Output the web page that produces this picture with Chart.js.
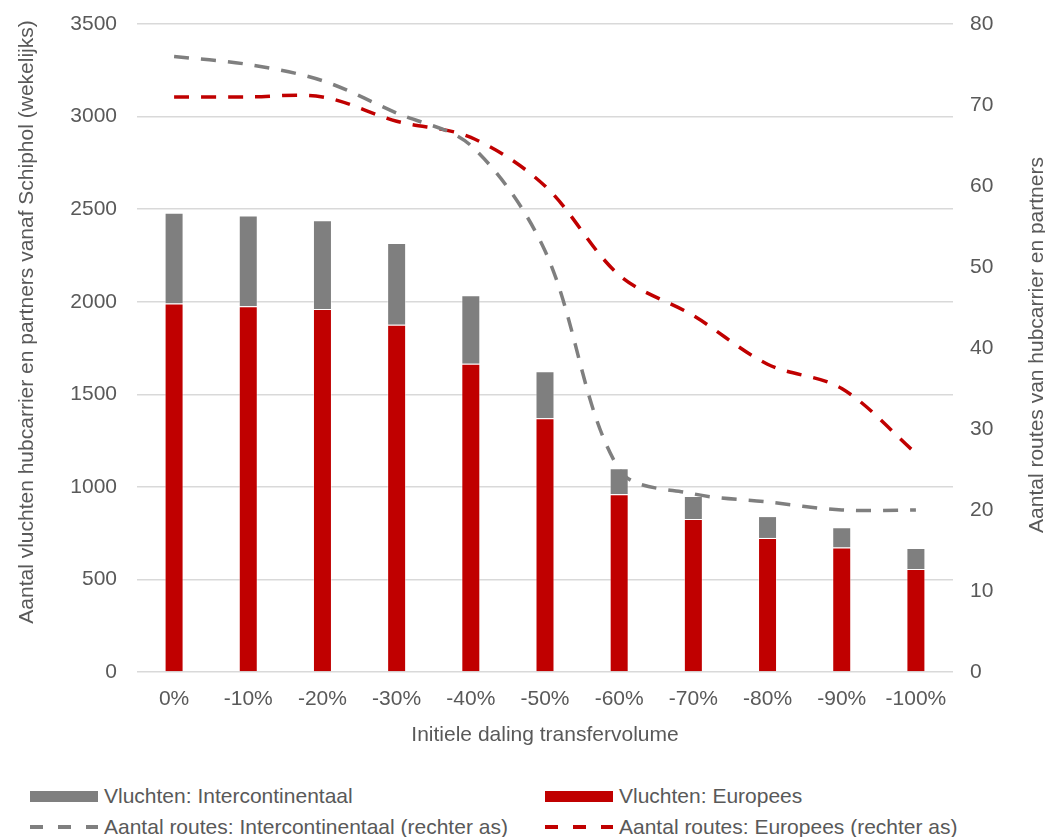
<!DOCTYPE html>
<html>
<head>
<meta charset="utf-8">
<script src="https://cdn.jsdelivr.net/npm/chart.js@4.4.1/dist/chart.umd.min.js"></script>
<style>
  body { margin: 0; background: #fff; font-family: "Liberation Sans", Arial, sans-serif; }
  #wrap { position: relative; width: 1045px; height: 837px; overflow: hidden; }
  #chart-box { position: absolute; left: 0; top: 0; width: 1045px; height: 765px; }
  .legend-item { position: absolute; height: 26px; display: flex; align-items: center; color: #595959; font-size: 21px; white-space: nowrap; }
  .legend-item .swatch { width: 68px; height: 11px; margin-right: 6px; }
  .legend-item svg { margin-right: 6px; }
</style>
</head>
<body>
<div id="wrap">
  <div id="chart-box"><canvas id="chart"></canvas></div>
  <div id="legend"></div>
</div>
<script>
// categories and values
const categories = ['0%', '-10%', '-20%', '-30%', '-40%', '-50%', '-60%', '-70%', '-80%', '-90%', '-100%']
const vluchtenEuropees = [1990, 1975, 1960, 1875, 1665, 1370, 960, 826, 724, 672, 556]
const vluchtenIntercontinentaal = [490, 490, 480, 442, 370, 255, 140, 124, 118, 110, 114]
const routesIntercontinentaal = [76, 75, 73, 69, 65, 52, 25, 22, 21, 20, 20]
const routesEuropees = [71, 71, 71, 68, 66, 60, 49, 44, 38, 35, 27]

const leftTicks = [0, 500, 1000, 1500, 2000, 2500, 3000, 3500]
const rightTicks = [0, 10, 20, 30, 40, 50, 60, 70, 80]

const textColor = '#595959'
const gray = '#7f7f7f'
const red = '#c00000'
const fontFamily = '"Liberation Sans", Arial, sans-serif'

const leftTitle = 'Aantal vluchten hubcarrier en partners vanaf Schiphol (wekelijks)'
const rightTitle = 'Aantal routes van hubcarrier en partners'
const xTitle = 'Initiele daling transfervolume'

// y titles both read bottom-to-top, so draw them here
const axisTitles = {
  id: 'axisTitles',
  afterDraw(chart) {
    const ctx = chart.ctx
    const area = chart.chartArea
    const midY = (area.top + area.bottom) / 2
    ctx.save()
    ctx.fillStyle = textColor
    ctx.font = '21px ' + fontFamily
    ctx.textAlign = 'center'
    ctx.textBaseline = 'middle'

    ctx.save()
    ctx.translate(chart.scales.y.left + 27, midY - 26)
    ctx.rotate(-Math.PI / 2)
    ctx.fillText(leftTitle, 0, 0)
    ctx.restore()

    ctx.save()
    ctx.translate(chart.scales.y1.right - 8, midY - 3)
    ctx.rotate(-Math.PI / 2)
    ctx.fillText(rightTitle, 0, 0)
    ctx.restore()

    ctx.restore()
  }
}

const barBorder = 'rgba(255,255,255,0.45)'
const plainNumber = v => String(v)

const chart = new Chart(document.getElementById('chart'), {
  type: 'bar',
  data: {
    labels: categories,
    datasets: [
      {
        type: 'line',
        label: 'Aantal routes: Intercontinentaal (rechter as)',
        data: routesIntercontinentaal,
        yAxisID: 'y1',
        borderColor: gray,
        borderWidth: 3.5,
        borderDash: [15, 12],
        pointRadius: 0,
        tension: 0.33,
        fill: false,
        order: 0
      },
      {
        type: 'line',
        label: 'Aantal routes: Europees (rechter as)',
        data: routesEuropees,
        yAxisID: 'y1',
        borderColor: red,
        borderWidth: 3.5,
        borderDash: [15, 12],
        pointRadius: 0,
        tension: 0.33,
        fill: false,
        order: 0
      },
      {
        label: 'Vluchten: Europees',
        data: vluchtenEuropees,
        backgroundColor: red,
        borderColor: barBorder,
        borderWidth: 1,
        yAxisID: 'y',
        stack: 'vluchten',
        barPercentage: 0.256,
        categoryPercentage: 1,
        order: 1
      },
      {
        label: 'Vluchten: Intercontinentaal',
        data: vluchtenIntercontinentaal,
        backgroundColor: gray,
        borderColor: barBorder,
        borderWidth: 1,
        yAxisID: 'y',
        stack: 'vluchten',
        barPercentage: 0.256,
        categoryPercentage: 1,
        order: 1
      }
    ]
  },
  options: {
    animation: false,
    responsive: true,
    maintainAspectRatio: false,
    layout: { padding: { top: 24, left: 0, right: 0, bottom: 0 } },
    plugins: {
      legend: { display: false },
      tooltip: { enabled: false }
    },
    scales: {
      x: {
        stacked: true,
        grid: { display: false, drawTicks: false },
        border: { display: false },
        ticks: { color: textColor, font: { family: fontFamily, size: 21 }, padding: 15, maxRotation: 0 },
        title: { display: true, text: xTitle, color: textColor, font: { family: fontFamily, size: 21 }, padding: { top: 0, bottom: 17 } },
        afterFit(s) { s.height = 93 }
      },
      y: {
        stacked: true,
        position: 'left',
        min: leftTicks[0],
        max: leftTicks[leftTicks.length - 1],
        afterBuildTicks(s) { s.ticks = leftTicks.map(v => ({ value: v })) },
        // invisible tick marks keep the labels away from the plot without padding the top
        grid: { color: '#d9d9d9', lineWidth: 1.5, drawTicks: true, tickLength: 20, tickColor: 'rgba(0,0,0,0)' },
        border: { display: false },
        ticks: { color: textColor, font: { family: fontFamily, size: 21 }, padding: 0, callback: plainNumber },
        afterFit(s) { s.width = 137 }
      },
      y1: {
        position: 'right',
        min: rightTicks[0],
        max: rightTicks[rightTicks.length - 1],
        afterBuildTicks(s) { s.ticks = rightTicks.map(v => ({ value: v })) },
        grid: { drawOnChartArea: false, drawTicks: true, tickLength: 17, tickColor: 'rgba(0,0,0,0)' },
        border: { display: false },
        ticks: { color: textColor, font: { family: fontFamily, size: 21 }, padding: 0, callback: plainNumber },
        afterFit(s) { s.width = 92 }
      }
    }
  },
  plugins: [axisTitles]
})

// legend in two columns under the chart
const legendItems = [
  { label: 'Vluchten: Intercontinentaal', color: gray, kind: 'box', left: 30, top: 783 },
  { label: 'Vluchten: Europees', color: red, kind: 'box', left: 545, top: 783 },
  { label: 'Aantal routes: Intercontinentaal (rechter as)', color: gray, kind: 'dash', left: 30, top: 814 },
  { label: 'Aantal routes: Europees (rechter as)', color: red, kind: 'dash', left: 545, top: 814 }
]

const legendEl = document.getElementById('legend')
legendItems.forEach(item => {
  const div = document.createElement('div')
  div.className = 'legend-item'
  div.style.left = item.left + 'px'
  div.style.top = item.top + 'px'
  if (item.kind === 'box') {
    const sw = document.createElement('span')
    sw.className = 'swatch'
    sw.style.background = item.color
    div.appendChild(sw)
  } else {
    const ns = 'http://www.w3.org/2000/svg'
    const svg = document.createElementNS(ns, 'svg')
    svg.setAttribute('width', '68')
    svg.setAttribute('height', '10')
    const line = document.createElementNS(ns, 'line')
    line.setAttribute('x1', '0')
    line.setAttribute('y1', '5')
    line.setAttribute('x2', '68')
    line.setAttribute('y2', '5')
    line.setAttribute('stroke', item.color)
    line.setAttribute('stroke-width', '4')
    line.setAttribute('stroke-dasharray', '13 15')
    svg.appendChild(line)
    div.appendChild(svg)
  }
  const txt = document.createElement('span')
  txt.textContent = item.label
  div.appendChild(txt)
  legendEl.appendChild(div)
})
</script>
</body>
</html>
